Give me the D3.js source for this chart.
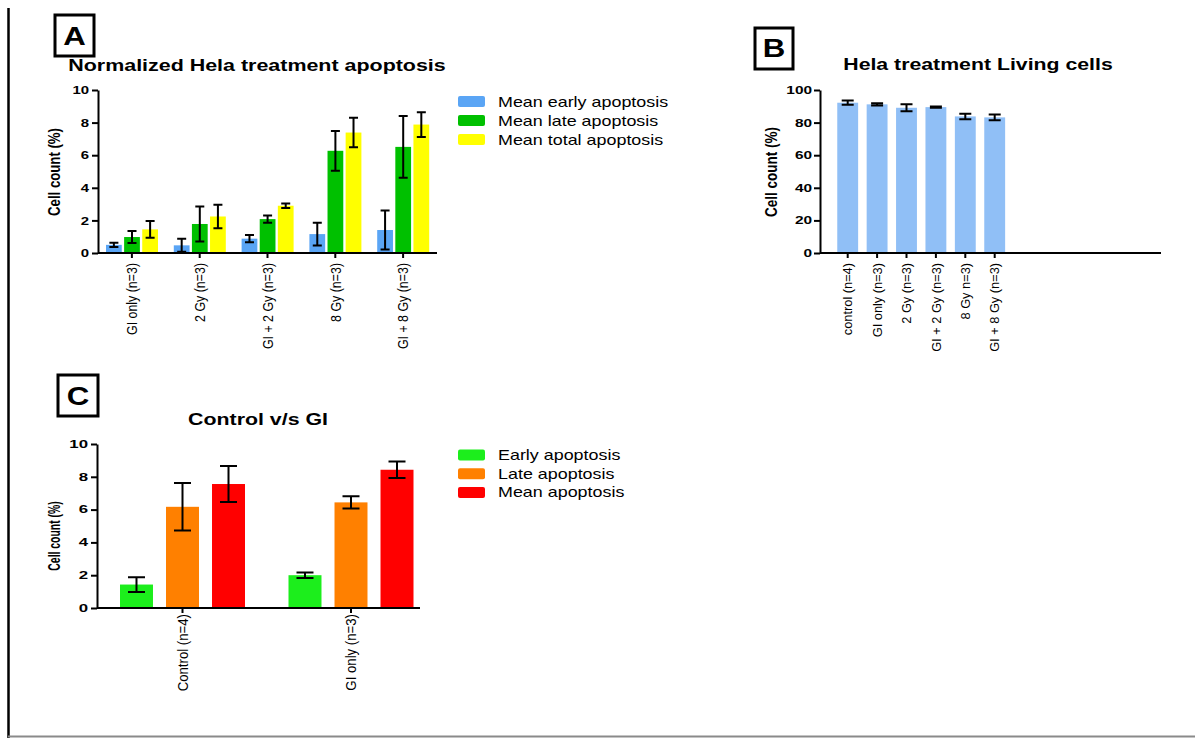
<!DOCTYPE html>
<html>
<head>
<meta charset="utf-8">
<script src="https://cdn.jsdelivr.net/npm/d3@7"></script>
<style>
	body { margin: 0; background: #fff; }
	svg { display: block; font-family: "Liberation Sans", Arial, sans-serif; }
</style>
</head>
<body>
<svg id="fig" width="1195" height="738"></svg>
<script>
"use strict";

// panel A: normalized apoptosis
const groupsA = ["GI only (n=3)", "2 Gy (n=3)", "GI + 2 Gy (n=3)", "8 Gy (n=3)", "GI + 8 Gy (n=3)"];
const seriesA = ["Mean early apoptosis", "Mean late apoptosis", "Mean total apoptosis"];
const earlyA = [0.50, 0.47, 0.88, 1.16, 1.41];
const earlyErrA = [0.13, 0.40, 0.22, 0.70, 1.20];
const lateA = [0.98, 1.78, 2.08, 6.27, 6.51];
const lateErrA = [0.37, 1.07, 0.22, 1.22, 1.90];
const totalA = [1.45, 2.24, 2.90, 7.39, 7.88];
const totalErrA = [0.52, 0.72, 0.14, 0.90, 0.76];
const ticksA = [0, 2, 4, 6, 8, 10];

// panel B: living cells
const groupsB = ["control (n=4)", "GI only (n=3)", "2 Gy (n=3)", "GI + 2 Gy (n=3)", "8 Gy n=3)", "GI + 8 Gy (n=3)"];
const livingB = [92.2, 91.2, 89.1, 89.5, 83.8, 83.2];
const livingErrB = [1.3, 0.7, 2.2, 0.4, 1.7, 1.7];
const ticksB = [0, 20, 40, 60, 80, 100];

// panel C: control vs GI
const groupsC = ["Control (n=4)", "GI only (n=3)"];
const seriesC = ["Early apoptosis", "Late apoptosis", "Mean apoptosis"];
const earlyC = [1.43, 2.00];
const earlyErrC = [0.45, 0.17];
const lateC = [6.17, 6.44];
const lateErrC = [1.45, 0.37];
const meanC = [7.56, 8.43];
const meanErrC = [1.10, 0.51];
const ticksC = [0, 2, 4, 6, 8, 10];

const colorsA = ["#5aa5f5", "#00c000", "#ffff00"];
const colorB = "#90bff6";
const colorsC = ["#1cee1c", "#ff8000", "#ff0000"];

const svg = d3.select("#fig");

// page frame
svg.append("line").attr("x1", 8.5).attr("x2", 8.5).attr("y1", 8).attr("y2", 738)
	.attr("stroke", "#000").attr("stroke-width", 2.5);
svg.append("line").attr("x1", 8).attr("x2", 1195).attr("y1", 736.5).attr("y2", 736.5)
	.attr("stroke", "#8a8a8a").attr("stroke-width", 2);

// text, stretched horizontally like the pasted figure
const label = (text, x, y, o) => svg.append("text")
	.attr("transform", `translate(${x},${y}) scale(${o.k || 1},1)` + (o.rotate ? " rotate(-90)" : ""))
	.attr("text-anchor", o.anchor || "start")
	.attr("font-size", o.size)
	.attr("font-weight", o.bold ? "bold" : "normal")
	.attr("fill", "#000")
	.text(text);

const panelBox = (letter, x, y, w, h, base) => {
	svg.append("rect").attr("x", x).attr("y", y).attr("width", w).attr("height", h)
		.attr("fill", "#fff").attr("stroke", "#000").attr("stroke-width", 3);
	label(letter, x + w / 2, y + h - base, {size: 26, bold: true, k: 1.2, anchor: "middle"});
};

const yAxis = (y, x, ticks, o) => {
	const g = svg.append("g").attr("transform", `translate(${x},0)`)
		.call(d3.axisLeft(y).tickValues(ticks).tickSize(6).tickSizeOuter(0));
	g.attr("font-family", null);
	g.select(".domain").attr("stroke-width", 2);
	g.selectAll(".tick line").attr("stroke-width", 2);
	g.selectAll(".tick text")
		.attr("font-size", o.size).attr("font-weight", "bold").attr("fill", "#000")
		.attr("x", -o.gap / o.k).attr("transform", `scale(${o.k},1)`);
};

const xAxis = (x, y0, o) => {
	const g = svg.append("g").attr("transform", `translate(0,${y0})`)
		.call(d3.axisBottom(x).tickSize(o.tick).tickSizeOuter(0));
	g.attr("font-family", null);
	g.select(".domain").remove();
	g.selectAll(".tick line").attr("stroke-width", 2);
	g.selectAll(".tick text")
		.attr("font-size", o.size).attr("fill", "#000")
		.attr("x", -o.gap).attr("y", 0).attr("dy", "0.35em")
		.attr("text-anchor", "end")
		.attr("transform", `scale(${o.k},1) rotate(-90)`);
	svg.append("line").attr("x1", o.from).attr("x2", o.to).attr("y1", y0).attr("y2", y0)
		.attr("stroke", "#000").attr("stroke-width", 2);
};

// bars with mean +/- error
const bars = (rows, y, cap) => {
	svg.append("g").selectAll("rect").data(rows).enter().append("rect")
		.attr("x", d => d.x).attr("width", d => d.w)
		.attr("y", d => y(d.v)).attr("height", d => y(0) - y(d.v))
		.attr("fill", d => d.c);
	svg.append("g").selectAll("path").data(rows).enter().append("path")
		.attr("d", d => {
			const cx = d.x + d.w / 2, hi = y(d.v + d.e), lo = y(d.v - d.e);
			return `M${cx - cap / 2},${hi}h${cap}M${cx},${hi}V${lo}M${cx - cap / 2},${lo}h${cap}`;
		})
		.attr("fill", "none").attr("stroke", "#000").attr("stroke-width", 2);
};

const legend = (names, colors, x, y, step) => {
	names.forEach((n, i) => {
		svg.append("rect").attr("x", x).attr("y", y + i * step - 5.5)
			.attr("width", 27).attr("height", 11).attr("rx", 2).attr("fill", colors[i]);
		label(n, x + 40, y + i * step + 5, {size: 14, k: 1.28});
	});
};

// ---------- A ----------
panelBox("A", 55, 15, 39, 41, 11);
label("Normalized Hela treatment apoptosis", 257, 71, {size: 16, bold: true, k: 1.34, anchor: "middle"});

const yA = d3.scaleLinear().domain([0, 10]).range([253, 90]);
const x0A = d3.scaleBand().domain(groupsA).range([98, 437]);
const x1A = d3.scaleBand().domain(seriesA).range([8, 60]).paddingInner(0.13);
const valsA = [earlyA, lateA, totalA], errsA = [earlyErrA, lateErrA, totalErrA];
const rowsA = groupsA.flatMap((g, i) => seriesA.map((s, j) => ({
	x: x0A(g) + x1A(s), w: x1A.bandwidth(), v: valsA[j][i], e: errsA[j][i], c: colorsA[j]
})));
bars(rowsA, yA, 9);
yAxis(yA, 98, ticksA, {size: 11.5, k: 1.3, gap: 9});
xAxis(x0A, 253, {tick: 5, size: 12.4, k: 1.2, gap: 10, from: 98, to: 437});
label("Cell count (%)", 60, 172, {size: 13.2, bold: true, k: 1.25, rotate: true, anchor: "middle"});
legend(seriesA, colorsA, 458, 101.5, 19);

// ---------- B ----------
panelBox("B", 755, 28, 38, 41, 12);
label("Hela treatment Living cells", 978, 70, {size: 16, bold: true, k: 1.33, anchor: "middle"});

const yB = d3.scaleLinear().domain([0, 100]).range([253, 90]);
const xB = d3.scaleBand().domain(groupsB).range([833, 1009.4]).paddingInner(0.29).paddingOuter(0.145);
const rowsB = groupsB.map((g, i) => ({x: xB(g), w: xB.bandwidth(), v: livingB[i], e: livingErrB[i], c: colorB}));
bars(rowsB, yB, 12);
yAxis(yB, 820, ticksB, {size: 11, k: 1.4, gap: 8});
xAxis(xB, 253, {tick: 5, size: 12.8, k: 1.05, gap: 10, from: 820, to: 1161});
label("Cell count (%)", 777, 172, {size: 13.5, bold: true, k: 1.2, rotate: true, anchor: "middle"});

// ---------- C ----------
panelBox("C", 58, 375, 40, 41, 11);
label("Control v/s GI", 258, 425, {size: 16.3, bold: true, k: 1.31, anchor: "middle"});

const yC = d3.scaleLinear().domain([0, 10]).range([608, 444]);
const x0C = d3.scaleBand().domain(groupsC).range([98.25, 435.25]);
const x1C = d3.scaleBand().domain(seriesC).range([21.75, 146.75]).paddingInner(0.283);
const valsC = [earlyC, lateC, meanC], errsC = [earlyErrC, lateErrC, meanErrC];
const rowsC = groupsC.flatMap((g, i) => seriesC.map((s, j) => ({
	x: x0C(g) + x1C(s), w: x1C.bandwidth(), v: valsC[j][i], e: errsC[j][i], c: colorsC[j]
})));
bars(rowsC, yC, 17);
yAxis(yC, 97, ticksC, {size: 10.5, k: 1.6, gap: 9});
xAxis(x0C, 608, {tick: 5, size: 13.2, k: 1.15, gap: 6, from: 97, to: 420});
label("Cell count (%)", 60, 536, {size: 10.4, bold: true, k: 1.5, rotate: true, anchor: "middle"});
legend(seriesC, colorsC, 458, 455, 18.7);
</script>
</body>
</html>
